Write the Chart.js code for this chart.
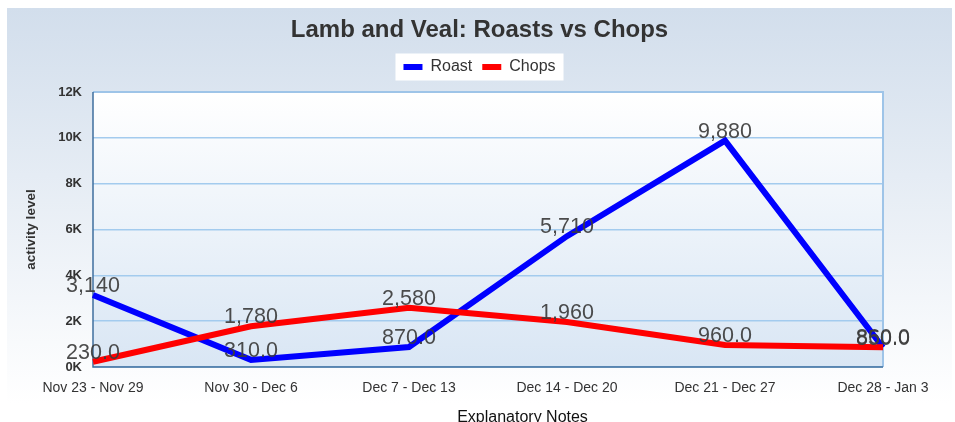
<!DOCTYPE html>
<html>
<head>
<meta charset="utf-8">
<script src="https://cdn.jsdelivr.net/npm/chart.js@4.4.0/dist/chart.umd.min.js"></script>
<style>
html,body{margin:0;padding:0;background:#fff;}
#wrap{width:955px;height:422px;position:relative;}
</style>
</head>
<body>
<div id="wrap"><canvas id="c" width="955" height="422"></canvas></div>
<script>
const categories = ["Nov 23 - Nov 29","Nov 30 - Dec 6","Dec 7 - Dec 13","Dec 14 - Dec 20","Dec 21 - Dec 27","Dec 28 - Jan 3"];
const roastValues = [3140, 310, 870, 5710, 9880, 850];
const chopsValues = [230, 1780, 2580, 1960, 960, 860];
const yTicks = [0, 2000, 4000, 6000, 8000, 10000, 12000];
const titleText = "Lamb and Veal: Roasts vs Chops";
const yTitle = "activity level";
const xTitle = "Explanatory Notes";

const FONT = "'Liberation Sans', Arial, Helvetica, sans-serif";

function fmt(v){
  if (v >= 1000) return v.toLocaleString('en-US');
  return v.toFixed(1);
}

const bgPlugin = {
  id: 'bg',
  beforeDraw(chart){
    const ctx = chart.ctx;
    const a = chart.chartArea;
    ctx.save();
    const g = ctx.createLinearGradient(0, 8, 0, 404);
    g.addColorStop(0, '#d2deec');
    g.addColorStop(1, '#ffffff');
    ctx.fillStyle = g;
    ctx.fillRect(7, 8, 945, 396);
    const g2 = ctx.createLinearGradient(0, a.top, 0, a.bottom);
    g2.addColorStop(0, '#ffffff');
    g2.addColorStop(1, '#d9e6f4');
    ctx.fillStyle = g2;
    ctx.fillRect(a.left, a.top, a.right - a.left, a.bottom - a.top);
    const lg = chart.legend;
    if (lg && lg.legendHitBoxes && lg.legendHitBoxes.length){
      let l = Infinity, r = -Infinity, t = Infinity, b = -Infinity;
      lg.legendHitBoxes.forEach(h => {
        l = Math.min(l, h.left); r = Math.max(r, h.left + h.width);
        t = Math.min(t, h.top); b = Math.max(b, h.top + h.height);
      });
      ctx.fillStyle = '#ffffff';
      ctx.fillRect(l - 8, t - 5.5, (r - l) + 16, (b - t) + 11);
    }
    ctx.restore();
  },
  beforeDatasetsDraw(chart){
    const ctx = chart.ctx;
    const a = chart.chartArea;
    ctx.save();
    ctx.lineWidth = 2;
    ctx.strokeStyle = '#9ec4e8';
    ctx.beginPath();
    ctx.moveTo(a.left, a.top);
    ctx.lineTo(a.right, a.top);
    ctx.lineTo(a.right, a.bottom);
    ctx.stroke();
    ctx.lineWidth = 1.5;
    ctx.strokeStyle = '#3f6f9f';
    ctx.beginPath();
    ctx.moveTo(a.left, a.top);
    ctx.lineTo(a.left, a.bottom);
    ctx.lineTo(a.right, a.bottom);
    ctx.stroke();
    ctx.restore();
  },
  afterDatasetsDraw(chart){
    const ctx = chart.ctx;
    const a = chart.chartArea;
    ctx.save();
    ctx.font = '21.5px ' + FONT;
    ctx.fillStyle = 'rgba(60,60,60,0.92)';
    ctx.textAlign = 'center';
    ctx.textBaseline = 'alphabetic';
    chart.data.datasets.forEach((ds, i) => {
      const meta = chart.getDatasetMeta(i);
      meta.data.forEach((pt, j) => {
        ctx.fillText(fmt(ds.data[j]), pt.x, pt.y - 3);
      });
    });
    ctx.font = '16px ' + FONT;
    ctx.fillStyle = '#111111';
    ctx.fillText(xTitle, (a.left + 952) / 2, 421.5);
    ctx.restore();
  }
};

new Chart(document.getElementById('c'), {
  type: 'line',
  data: {
    labels: categories,
    datasets: [
      { label: 'Roast', data: roastValues, borderColor: '#0000ff', backgroundColor: '#0000ff', borderWidth: 6, pointRadius: 0, tension: 0, order: 1 },
      { label: 'Chops', data: chopsValues, borderColor: '#ff0000', backgroundColor: '#ff0000', borderWidth: 6, pointRadius: 0, tension: 0, order: 0 }
    ]
  },
  options: {
    responsive: false,
    animation: false,
    devicePixelRatio: 1,
    layout: { padding: { top: 8, left: 7, right: 3, bottom: 0 } },
    plugins: {
      title: {
        display: true, text: titleText, color: '#333333',
        font: { family: FONT, size: 24, weight: 'bold', lineHeight: 1.2 },
        padding: { top: 7.6, bottom: 4.6 }
      },
      legend: {
        display: true,
        labels: {
          color: '#333333', boxWidth: 19, boxHeight: 6, padding: 10,
          font: { family: FONT, size: 16 },
          sort: (a, b) => a.datasetIndex - b.datasetIndex,
          generateLabels(chart){
            const items = Chart.defaults.plugins.legend.labels.generateLabels(chart);
            items.forEach(it => { it.lineWidth = 0; it.strokeStyle = 'rgba(0,0,0,0)'; });
            return items;
          }
        }
      },
      tooltip: { enabled: false }
    },
    scales: {
      x: {
        offset: false,
        grid: { display: false },
        border: { display: false },
        ticks: { color: '#333333', font: { family: FONT, size: 14 }, padding: 5, maxRotation: 0, autoSkip: false },
        afterFit(s){ s.height = 55; }
      },
      xTop: {
        type: 'category', position: 'top', display: true,
        grid: { display: false }, border: { display: false },
        ticks: { display: false },
        afterFit(s){ s.height = 7; }
      },
      y: {
        min: 0, max: 12000,
        afterBuildTicks(s){ s.ticks = yTicks.map(v => ({ value: v })); },
        grid: { color: '#a3cbee', lineWidth: 1.6, drawTicks: false },
        border: { display: false },
        ticks: {
          color: '#333333', padding: 11,
          font: { family: FONT, size: 13, weight: 'bold' },
          callback: v => (v / 1000) + 'K'
        },
        title: { display: true, text: yTitle, color: '#333333', font: { family: FONT, size: 13.5, weight: 'bold' }, padding: { top: 16, bottom: 0 } },
        afterFit(s){ s.width = 86; }
      },
      yRight: {
        type: 'linear', position: 'right', display: true,
        grid: { display: false }, border: { display: false },
        ticks: { display: false },
        afterFit(s){ s.width = 69; }
      }
    }
  },
  plugins: [bgPlugin]
});
</script>
</body>
</html>
